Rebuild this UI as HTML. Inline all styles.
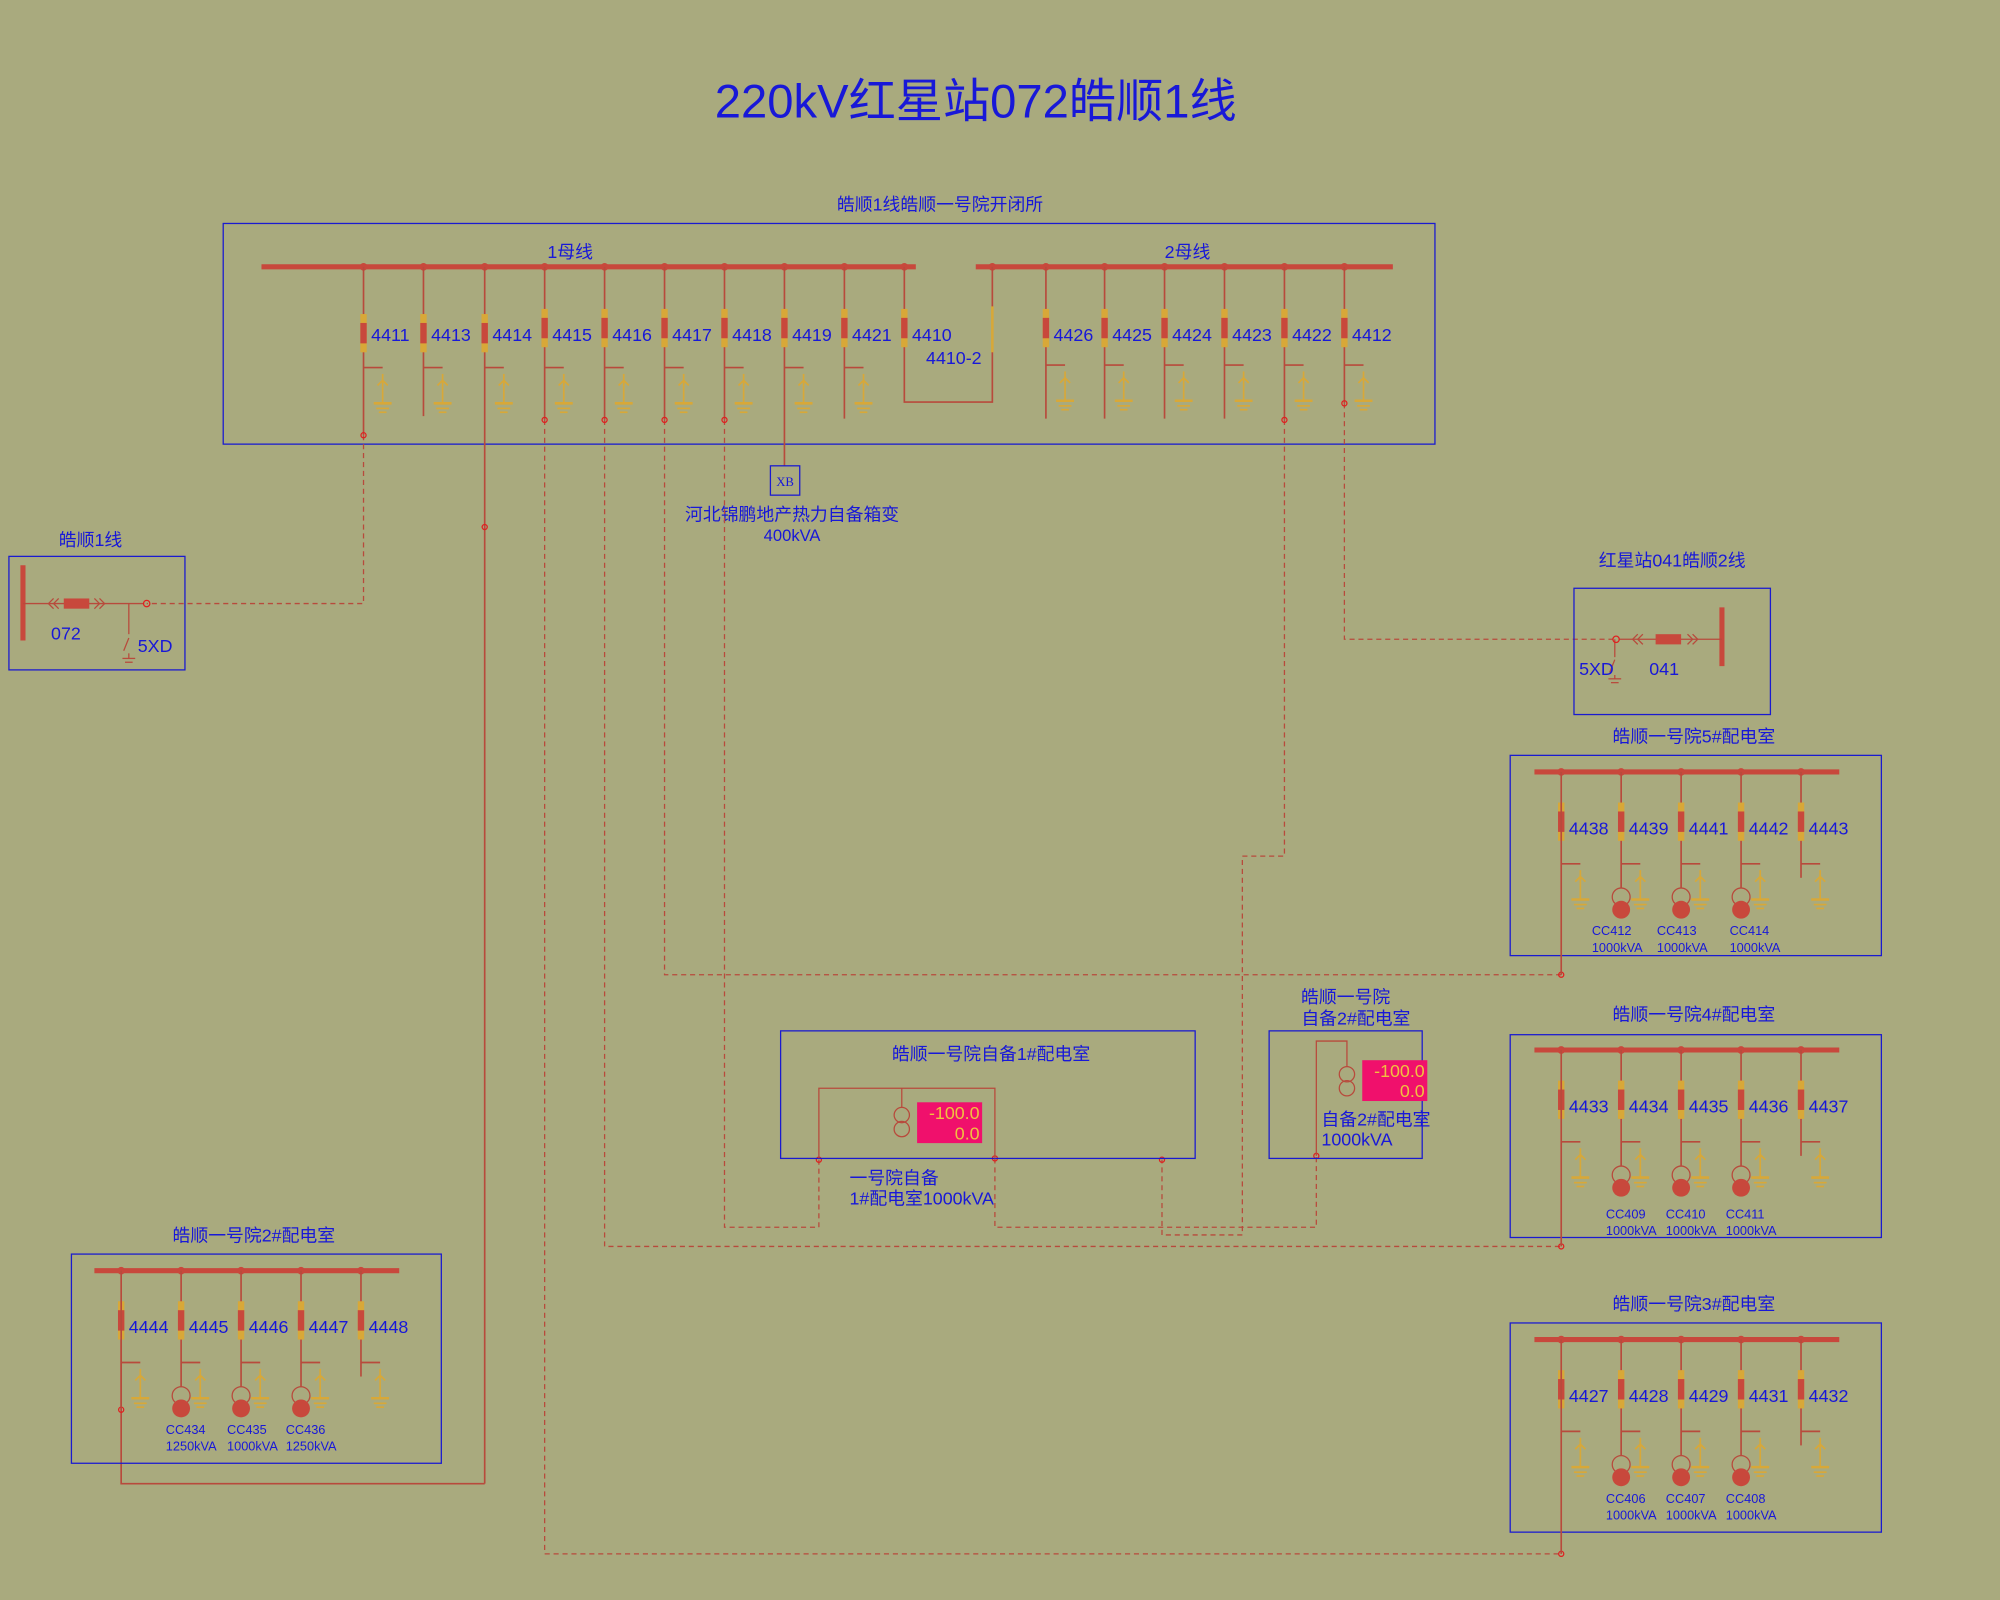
<!DOCTYPE html>
<html><head><meta charset="utf-8">
<style>
html,body{margin:0;padding:0;background:#a9aa7e;}
svg{display:block}
text{font-family:"Liberation Sans","Noto Sans CJK SC",sans-serif;fill:#1818d8;}
</style></head><body>
<svg width="2000" height="1600" viewBox="0 0 1568 1254" xmlns="http://www.w3.org/2000/svg">
<defs>
<g id="brk">
<rect x="-2.5" y="-6" width="5" height="30" fill="#d8a838"/>
<rect x="-2.5" y="1" width="5" height="16" fill="#c8483c"/>
</g>
<g id="gnd" stroke-width="1.3">
<line x1="0" y1="0" x2="15" y2="0" stroke="#b84a3c"/>
<line x1="15" y1="5" x2="15" y2="28" stroke="#d8a838"/>
<path d="M11 14 L15 10 L19 14" fill="none" stroke="#d8a838"/>
<line x1="8" y1="28" x2="22" y2="28" stroke="#d8a838" stroke-width="2"/>
<line x1="10" y1="32" x2="20" y2="32" stroke="#d8a838"/>
<line x1="12" y1="35" x2="18" y2="35" stroke="#d8a838"/>
</g>
<g id="sub">
<line x1="-21" y1="0" x2="218" y2="0" stroke="#c8483c" stroke-width="4"/>
<g fill="#c8483c"><circle cx="0" cy="0" r="3"/><circle cx="47" cy="0" r="3"/><circle cx="94" cy="0" r="3"/><circle cx="141" cy="0" r="3"/><circle cx="188" cy="0" r="3"/></g>
<g stroke="#b84a3c" stroke-width="1.3">
<line x1="47" y1="0" x2="47" y2="91"/><line x1="94" y1="0" x2="94" y2="91"/><line x1="141" y1="0" x2="141" y2="91"/><line x1="188" y1="0" x2="188" y2="83"/>
</g>
<use href="#brk" x="0" y="30"/><use href="#brk" x="47" y="30"/><use href="#brk" x="94" y="30"/><use href="#brk" x="141" y="30"/><use href="#brk" x="188" y="30"/>
<use href="#gnd" x="0" y="72"/><use href="#gnd" x="47" y="72"/><use href="#gnd" x="94" y="72"/><use href="#gnd" x="141" y="72"/><use href="#gnd" x="188" y="72"/>
<g fill="none" stroke="#b84a3c" stroke-width="1"><circle cx="47" cy="98" r="7"/><circle cx="94" cy="98" r="7"/><circle cx="141" cy="98" r="7"/></g>
<g fill="#c8483c"><circle cx="47" cy="108" r="7"/><circle cx="94" cy="108" r="7"/><circle cx="141" cy="108" r="7"/></g>
</g>
</defs>

<text x="765" y="92" font-size="37" text-anchor="middle">220kV红星站072皓顺1线</text>

<!-- main box -->
<text x="737" y="165" font-size="14" text-anchor="middle">皓顺1线皓顺一号院开闭所</text>
<rect x="175" y="175" width="950" height="173" fill="none" stroke="#1a1ad0" stroke-width="1"/>
<text x="447" y="202" font-size="14" text-anchor="middle">1母线</text>
<text x="931" y="202" font-size="14" text-anchor="middle">2母线</text>
<line x1="205" y1="209" x2="718" y2="209" stroke="#c8483c" stroke-width="4"/>
<line x1="765" y1="209" x2="1092" y2="209" stroke="#c8483c" stroke-width="4"/>
<g fill="#c8483c">
<circle cx="285" cy="209" r="3"/><circle cx="332" cy="209" r="3"/><circle cx="380" cy="209" r="3"/><circle cx="427" cy="209" r="3"/><circle cx="474" cy="209" r="3"/><circle cx="521" cy="209" r="3"/><circle cx="568" cy="209" r="3"/><circle cx="615" cy="209" r="3"/><circle cx="662" cy="209" r="3"/><circle cx="709" cy="209" r="3"/>
<circle cx="778" cy="209" r="3"/><circle cx="820" cy="209" r="3"/><circle cx="866" cy="209" r="3"/><circle cx="913" cy="209" r="3"/><circle cx="960" cy="209" r="3"/><circle cx="1007" cy="209" r="3"/><circle cx="1054" cy="209" r="3"/>
</g>
<g stroke="#b84a3c" stroke-width="1.3" fill="none">
<line x1="285" y1="209" x2="285" y2="341"/>
<line x1="332" y1="209" x2="332" y2="326"/>
<line x1="380" y1="209" x2="380" y2="1163"/>
<polyline points="380,1163 95,1163 95,1040"/>
<line x1="427" y1="209" x2="427" y2="329"/>
<line x1="474" y1="209" x2="474" y2="329"/>
<line x1="521" y1="209" x2="521" y2="329"/>
<line x1="568" y1="209" x2="568" y2="329"/>
<line x1="615" y1="209" x2="615" y2="365"/>
<line x1="662" y1="209" x2="662" y2="328"/>
<polyline points="709,209 709,315 778,315 778,209"/>
<line x1="820" y1="209" x2="820" y2="328"/><line x1="866" y1="209" x2="866" y2="328"/><line x1="913" y1="209" x2="913" y2="328"/><line x1="960" y1="209" x2="960" y2="328"/>
<line x1="1007" y1="209" x2="1007" y2="329"/><line x1="1054" y1="209" x2="1054" y2="316"/>
</g>
<g>
<use href="#brk" x="285" y="252"/><use href="#brk" x="332" y="252"/><use href="#brk" x="380" y="252"/><use href="#brk" x="427" y="248"/><use href="#brk" x="474" y="248"/><use href="#brk" x="521" y="248"/><use href="#brk" x="568" y="248"/><use href="#brk" x="615" y="248"/><use href="#brk" x="662" y="248"/><use href="#brk" x="709" y="248"/>
<use href="#brk" x="820" y="248"/><use href="#brk" x="866" y="248"/><use href="#brk" x="913" y="248"/><use href="#brk" x="960" y="248"/><use href="#brk" x="1007" y="248"/><use href="#brk" x="1054" y="248"/>
<line x1="778" y1="240" x2="778" y2="276" stroke="#d8a838" stroke-width="2"/>
<use href="#gnd" x="285" y="288"/><use href="#gnd" x="332" y="288"/><use href="#gnd" x="380" y="288"/><use href="#gnd" x="427" y="288"/><use href="#gnd" x="474" y="288"/><use href="#gnd" x="521" y="288"/><use href="#gnd" x="568" y="288"/><use href="#gnd" x="615" y="288"/><use href="#gnd" x="662" y="288"/>
<use href="#gnd" x="820" y="286"/><use href="#gnd" x="866" y="286"/><use href="#gnd" x="913" y="286"/><use href="#gnd" x="960" y="286"/><use href="#gnd" x="1007" y="286"/><use href="#gnd" x="1054" y="286"/>
</g>
<g font-size="14">
<text x="291" y="267">4411</text><text x="338" y="267">4413</text><text x="386" y="267">4414</text><text x="433" y="267">4415</text><text x="480" y="267">4416</text><text x="527" y="267">4417</text><text x="574" y="267">4418</text><text x="621" y="267">4419</text><text x="668" y="267">4421</text><text x="715" y="267">4410</text>
<text x="726" y="285">4410-2</text>
<text x="826" y="267">4426</text><text x="872" y="267">4425</text><text x="919" y="267">4424</text><text x="966" y="267">4423</text><text x="1013" y="267">4422</text><text x="1060" y="267">4412</text>
</g>

<!-- XB -->
<rect x="604" y="365" width="23" height="23" fill="none" stroke="#1a1ad0"/>
<text x="615.5" y="381" font-size="10" text-anchor="middle" style="font-family:'Liberation Serif',serif">XB</text>
<text x="621" y="408" font-size="14" text-anchor="middle">河北锦鹏地产热力自备箱变</text>
<text x="621" y="424" font-size="13" text-anchor="middle">400kVA</text>

<!-- dashed connectors -->
<g stroke="#b84a3c" stroke-width="1" fill="none" stroke-dasharray="4 3">
<polyline points="285,341 285,473 115,473"/>
<polyline points="427,329 427,1218 1224,1218"/>
<polyline points="474,329 474,977 1224,977"/>
<polyline points="521,329 521,764 1224,764"/>
<polyline points="568,329 568,962 642,962 642,909"/>
<polyline points="1007,329 1007,671 974,671 974,968 911,968 911,909"/>
<polyline points="1054,316 1054,501 1267,501"/>
<polyline points="780,908 780,962 1032,962 1032,906"/>
</g>
<g stroke="#e02020" stroke-width="1" fill="none">
<circle cx="285" cy="341" r="2"/><circle cx="427" cy="329" r="2"/><circle cx="474" cy="329" r="2"/><circle cx="521" cy="329" r="2"/><circle cx="568" cy="329" r="2"/><circle cx="1007" cy="329" r="2"/><circle cx="1054" cy="316" r="2"/>
<circle cx="380" cy="413" r="2"/><circle cx="95" cy="1105" r="2"/>
<circle cx="1224" cy="764" r="2"/><circle cx="1224" cy="977" r="2"/><circle cx="1224" cy="1218" r="2"/>
<circle cx="642" cy="909" r="2"/><circle cx="780" cy="908" r="2"/><circle cx="911" cy="909" r="2"/><circle cx="1032" cy="906" r="2"/>
</g>

<!-- 皓顺1线 box -->
<text x="71" y="428" font-size="14" text-anchor="middle">皓顺1线</text>
<rect x="7" y="436" width="138" height="89" fill="none" stroke="#1a1ad0"/>
<line x1="18" y1="443" x2="18" y2="502" stroke="#c8483c" stroke-width="4"/>
<g stroke="#b84a3c" stroke-width="1" fill="none">
<line x1="18" y1="473" x2="113" y2="473"/>
<path d="M42 469 L38 473 L42 477 M46 469 L42 473 L46 477 M74 469 L78 473 L74 477 M78 469 L82 473 L78 477"/>
<line x1="101" y1="473" x2="101" y2="497"/>
<line x1="101" y1="500" x2="97" y2="510"/>
<line x1="101" y1="512" x2="101" y2="516"/><line x1="96" y1="516" x2="106" y2="516"/><line x1="98" y1="519" x2="104" y2="519"/>
</g>
<circle cx="115" cy="473" r="2.5" fill="none" stroke="#e02020"/>
<rect x="50" y="469" width="20" height="8" fill="#c8483c"/>
<text x="40" y="501" font-size="14">072</text>
<text x="108" y="511" font-size="14">5XD</text>

<!-- 041 box -->
<text x="1311" y="444" font-size="14" text-anchor="middle">红星站041皓顺2线</text>
<rect x="1234" y="461" width="154" height="99" fill="none" stroke="#1a1ad0"/>
<line x1="1350" y1="476" x2="1350" y2="522" stroke="#c8483c" stroke-width="4"/>
<g stroke="#b84a3c" stroke-width="1" fill="none">
<line x1="1269" y1="501" x2="1350" y2="501"/>
<path d="M1284 497 L1280 501 L1284 505 M1288 497 L1284 501 L1288 505 M1323 497 L1327 501 L1323 505 M1327 497 L1331 501 L1327 505"/>
<line x1="1266" y1="501" x2="1266" y2="515"/><line x1="1266" y1="517" x2="1262" y2="527"/>
<line x1="1266" y1="529" x2="1266" y2="532"/><line x1="1261" y1="532" x2="1271" y2="532"/><line x1="1263" y1="535" x2="1269" y2="535"/>
</g>
<circle cx="1267" cy="501" r="2.5" fill="none" stroke="#e02020"/>
<rect x="1298" y="497" width="20" height="8" fill="#c8483c"/>
<text x="1238" y="529" font-size="14">5XD</text>
<text x="1293" y="529" font-size="14">041</text>

<!-- substations -->
<g font-size="14" text-anchor="middle">
<text x="1328" y="582">皓顺一号院5#配电室</text>
<text x="1328" y="800">皓顺一号院4#配电室</text>
<text x="1328" y="1027">皓顺一号院3#配电室</text>
<text x="199" y="973">皓顺一号院2#配电室</text>
</g>
<g fill="none" stroke="#1a1ad0">
<rect x="1184" y="592" width="291" height="157"/>
<rect x="1184" y="811" width="291" height="159"/>
<rect x="1184" y="1037" width="291" height="164"/>
<rect x="56" y="983" width="290" height="164"/>
</g>
<use href="#sub" x="1224" y="605"/>
<use href="#sub" x="1224" y="823"/>
<use href="#sub" x="1224" y="1050"/>
<use href="#sub" x="95" y="996"/>
<g stroke="#b84a3c" stroke-width="1.3">
<line x1="1224" y1="605" x2="1224" y2="764"/>
<line x1="1224" y1="823" x2="1224" y2="977"/>
<line x1="1224" y1="1050" x2="1224" y2="1218"/>
<line x1="95" y1="996" x2="95" y2="1105"/>
</g>
<g font-size="14">
<text x="1230" y="654">4438</text><text x="1277" y="654">4439</text><text x="1324" y="654">4441</text><text x="1371" y="654">4442</text><text x="1418" y="654">4443</text>
<text x="1230" y="872">4433</text><text x="1277" y="872">4434</text><text x="1324" y="872">4435</text><text x="1371" y="872">4436</text><text x="1418" y="872">4437</text>
<text x="1230" y="1099">4427</text><text x="1277" y="1099">4428</text><text x="1324" y="1099">4429</text><text x="1371" y="1099">4431</text><text x="1418" y="1099">4432</text>
<text x="101" y="1045">4444</text><text x="148" y="1045">4445</text><text x="195" y="1045">4446</text><text x="242" y="1045">4447</text><text x="289" y="1045">4448</text>
</g>
<g font-size="10">
<text x="1248" y="733">CC412</text><text x="1248" y="746">1000kVA</text>
<text x="1299" y="733">CC413</text><text x="1299" y="746">1000kVA</text>
<text x="1356" y="733">CC414</text><text x="1356" y="746">1000kVA</text>
<text x="1259" y="955">CC409</text><text x="1259" y="968">1000kVA</text>
<text x="1306" y="955">CC410</text><text x="1306" y="968">1000kVA</text>
<text x="1353" y="955">CC411</text><text x="1353" y="968">1000kVA</text>
<text x="1259" y="1178">CC406</text><text x="1259" y="1191">1000kVA</text>
<text x="1306" y="1178">CC407</text><text x="1306" y="1191">1000kVA</text>
<text x="1353" y="1178">CC408</text><text x="1353" y="1191">1000kVA</text>
<text x="130" y="1124">CC434</text><text x="130" y="1137">1250kVA</text>
<text x="178" y="1124">CC435</text><text x="178" y="1137">1000kVA</text>
<text x="224" y="1124">CC436</text><text x="224" y="1137">1250kVA</text>
</g>

<!-- self 1 -->
<rect x="612" y="808" width="325" height="100" fill="none" stroke="#1a1ad0"/>
<text x="777" y="831" font-size="14" text-anchor="middle">皓顺一号院自备1#配电室</text>
<g stroke="#b84a3c" stroke-width="1" fill="none">
<polyline points="642,908 642,853 780,853 780,908"/>
<line x1="707" y1="853" x2="707" y2="868"/>
<circle cx="707" cy="874" r="6"/><circle cx="707" cy="885" r="6"/>
</g>
<rect x="719" y="864" width="51" height="32" fill="#f0106c"/>
<g font-size="14" style="font-family:'Liberation Serif',serif" text-anchor="end">
<text x="768" y="877" style="fill:#f0c040">-100.0</text>
<text x="768" y="893" style="fill:#f0c040">0.0</text>
</g>
<text x="666" y="928" font-size="14">一号院自备</text>
<text x="666" y="944" font-size="14">1#配电室1000kVA</text>

<!-- self 2 -->
<text x="1055" y="786" font-size="14" text-anchor="middle">皓顺一号院</text>
<text x="1063" y="803" font-size="14" text-anchor="middle">自备2#配电室</text>
<rect x="995" y="808" width="120" height="100" fill="none" stroke="#1a1ad0"/>
<g stroke="#b84a3c" stroke-width="1" fill="none">
<polyline points="1032,906 1032,816 1056,816 1056,836"/>
<circle cx="1056" cy="842" r="6"/><circle cx="1056" cy="853" r="6"/>
</g>
<rect x="1068" y="831" width="51" height="32" fill="#f0106c"/>
<g font-size="14" style="font-family:'Liberation Serif',serif" text-anchor="end">
<text x="1117" y="844" style="fill:#f0c040">-100.0</text>
<text x="1117" y="860" style="fill:#f0c040">0.0</text>
</g>
<text x="1036" y="882" font-size="14">自备2#配电室</text>
<text x="1036" y="898" font-size="14">1000kVA</text>
</svg>
</body></html>
